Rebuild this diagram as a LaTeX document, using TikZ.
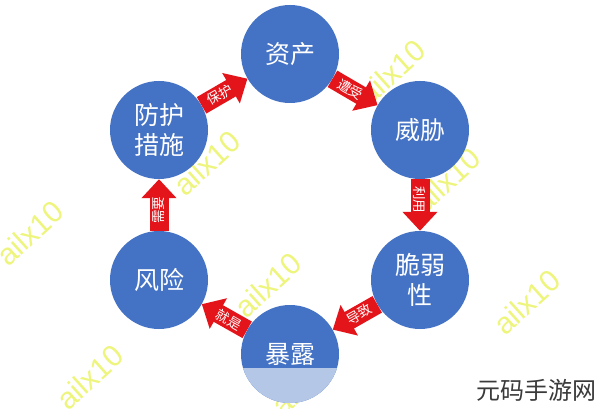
\documentclass[tikz,border=0pt]{standalone}
\usepackage{fontspec}
\setmainfont{Liberation Sans}
\newfontfamily\cjk{Noto Sans CJK SC}
\usetikzlibrary{arrows.meta}
\definecolor{nodeblue}{HTML}{4472C4}
\definecolor{bandblue}{HTML}{B4C7E7}
\definecolor{arrred}{HTML}{E3151B}
\definecolor{wmyellow}{RGB}{236,244,110}
\definecolor{logogray}{HTML}{3A3A3A}
\tikzset{
  keynode/.style={circle, fill=nodeblue, minimum size=98pt, inner sep=0pt,
    text=white, font=\cjk\fontsize{25}{30}\selectfont, align=center},
  fatarrow/.style={draw=arrred, line width=19pt,
    -{Triangle[width=34pt,length=19pt]}},
  arrlabel/.style={text=white, font=\cjk\fontsize{13.5}{13.5}\selectfont, sloped, pos=0.4, inner sep=0pt},
  watermark/.style={text=wmyellow, font=\fontsize{30}{30}\selectfont, rotate=42, opacity=0.9},
}
\begin{document}
\begin{tikzpicture}[x=1pt, y=-1pt]
\useasboundingbox[fill=white] (0,0) rectangle (600,409);
% watermarks (behind)
\node[watermark] (w1) at (392,72) {ailx10};
\node[watermark] (w2) at (207,163) {ailx10};
\node[watermark] (w3) at (447,180) {ailx10};
\node[watermark] (w4) at (527,302) {ailx10};
\node[watermark] (w5) at (268,285) {ailx10};
\node[watermark] (w6) at (30,233) {ailx10};
\node[watermark] (w7) at (90,377) {ailx10};
\node[watermark] (w8) at (305,383) {ailx10};
% nodes
\node[keynode] (zc) at (290,54) {资产};
\node[keynode] (wx) at (420,130) {威胁};
\node[keynode] (cr) at (420,280) {脆弱\\性};
\node[keynode, path picture={\fill[bandblue] ([yshift=-14pt]path picture bounding box.west) rectangle (path picture bounding box.south east);}] (bl) at (290,354) {暴露};
\node[keynode] (fx) at (159,280) {风险};
\node[keynode] (fh) at (159,130) {防护\\措施};
% arrows
\draw[fatarrow] (fh) -- node[arrlabel] (l1) {保护} (zc);
\draw[fatarrow] (zc) -- node[arrlabel] (l2) {遭受} (wx);
\draw[fatarrow] (wx) -- node[arrlabel] (l3) {利用} (cr);
\draw[fatarrow] (cr) -- node[arrlabel] (l4) {导致} (bl);
\draw[fatarrow] (bl) -- node[arrlabel] (l5) {就是} (fx);
\draw[fatarrow] (fx) -- node[arrlabel] (l6) {需要} (fh);
% logo
\node[text=logogray, font=\cjk\fontsize{24}{24}\selectfont, anchor=center] (logo) at (536,390) {元码手游网};
\end{tikzpicture}
\end{document}
